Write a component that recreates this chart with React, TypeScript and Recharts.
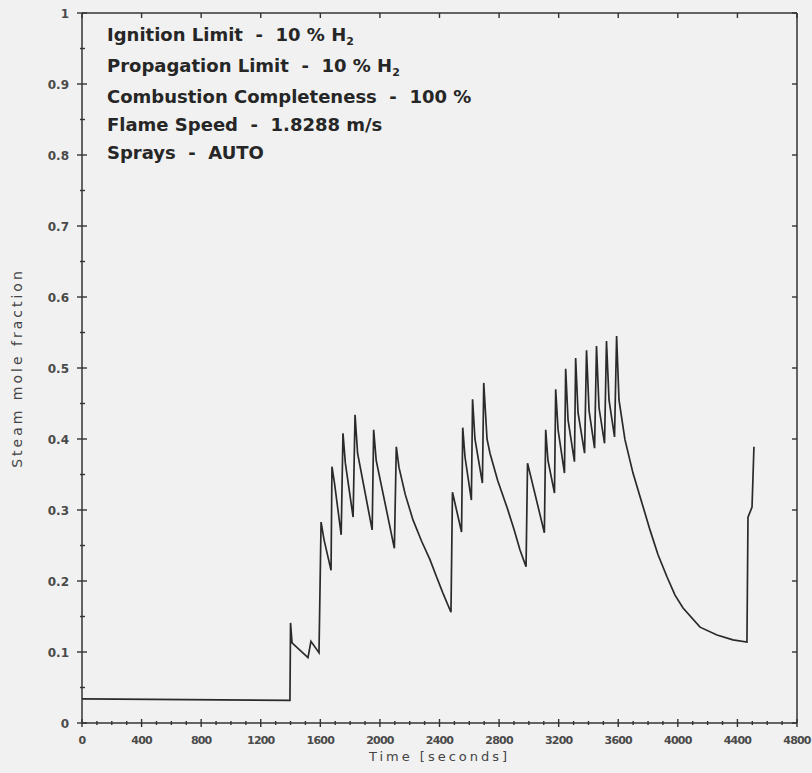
import { LineChart, Line, XAxis, YAxis } from 'recharts';

const times = [
  0, 700, 1396, 1400, 1410, 1517, 1537, 1591, 1605, 1625, 1672, 1678, 1695, 1740, 1752, 1768, 1820,
  1833, 1850, 1948, 1958, 1975, 2097, 2110, 2128, 2170, 2222, 2280, 2336, 2380, 2423, 2477, 2487,
  2548, 2556, 2571, 2614, 2622, 2638, 2688, 2697, 2719, 2739, 2790, 2853, 2900, 2940, 2981, 2991,
  3104, 3113, 3128, 3172, 3180, 3196, 3239, 3247, 3263, 3306, 3314, 3330, 3374, 3387, 3404, 3441,
  3454, 3471, 3508, 3521, 3538, 3575, 3589, 3605, 3645, 3699, 3759, 3813, 3867, 3927, 3981, 4035,
  4149, 4263, 4370, 4464, 4471, 4498, 4511,
];

const steamFraction = [
  0.034, 0.033, 0.032, 0.141, 0.113, 0.092, 0.115, 0.099, 0.283, 0.258, 0.215, 0.361, 0.338, 0.265,
  0.408, 0.366, 0.29, 0.434, 0.38, 0.272, 0.413, 0.37, 0.246, 0.389, 0.36, 0.322, 0.286, 0.256, 0.23,
  0.206, 0.183, 0.156, 0.325, 0.269, 0.416, 0.375, 0.314, 0.456, 0.4, 0.338, 0.479, 0.4, 0.38, 0.342,
  0.304, 0.273, 0.244, 0.22, 0.366, 0.268, 0.413, 0.37, 0.324, 0.47, 0.413, 0.352, 0.499, 0.427,
  0.368, 0.514, 0.437, 0.38, 0.525, 0.44, 0.387, 0.531, 0.444, 0.394, 0.538, 0.455, 0.403, 0.545,
  0.455, 0.399, 0.352, 0.31, 0.272, 0.237, 0.206, 0.18, 0.162, 0.135, 0.124, 0.117, 0.114, 0.29,
  0.304, 0.389,
];

const xMajorTicks = [0, 400, 800, 1200, 1600, 2000, 2400, 2800, 3200, 3600, 4000, 4400, 4800];
const xMinorTicks = [
  0, 100, 200, 300, 400, 500, 600, 700, 800, 900, 1000, 1100, 1200, 1300, 1400, 1500, 1600, 1700,
  1800, 1900, 2000, 2100, 2200, 2300, 2400, 2500, 2600, 2700, 2800, 2900, 3000, 3100, 3200, 3300,
  3400, 3500, 3600, 3700, 3800, 3900, 4000, 4100, 4200, 4300, 4400, 4500, 4600, 4700, 4800,
];
const yMajorTicks = [0, 0.1, 0.2, 0.3, 0.4, 0.5, 0.6, 0.7, 0.8, 0.9, 1];
const yMinorTicks = [
  0, 0.05, 0.1, 0.15, 0.2, 0.25, 0.3, 0.35, 0.4, 0.45, 0.5, 0.55, 0.6, 0.65, 0.7, 0.75, 0.8, 0.85,
  0.9, 0.95, 1,
];

const notes = [
  { label: 'Ignition Limit', value: '10 % H', sub: '2' },
  { label: 'Propagation Limit', value: '10 % H', sub: '2' },
  { label: 'Combustion Completeness', value: '100 %' },
  { label: 'Flame Speed', value: '1.8288 m/s' },
  { label: 'Sprays', value: 'AUTO' },
];

const data = times.map((t, i) => ({ t, v: steamFraction[i] }));

const INK = '#333';
const tickFont = { fontFamily: 'DejaVu Sans', fontWeight: 700, fill: '#4a4a4a' };

const isMajorX = (v: number) => Math.abs(v % 400) < 1e-6;
const isMajorY = (v: number) => Math.abs(Math.round(v * 10) - v * 10) < 1e-6;

const BottomTick = (props: any) => {
  const { x, y, payload } = props;
  const major = isMajorX(payload.value);
  return (
    <g>
      <line x1={x} x2={x} y1={y - (major ? 4 : 2)} y2={y + (major ? 4 : 2)} stroke={INK} strokeWidth={1.4} />
      {major && (
        <text x={x} y={y + 21} textAnchor="middle" fontSize={11} letterSpacing={-0.8} {...tickFont}>
          {payload.value}
        </text>
      )}
    </g>
  );
};

const LeftTick = (props: any) => {
  const { x, y, payload } = props;
  const major = isMajorY(payload.value);
  const v = payload.value;
  const label = v === 0 ? '0' : v === 1 ? '1' : v.toFixed(1);
  return (
    <g>
      <line x1={x - (major ? 5 : 2)} x2={x + (major ? 5 : 3)} y1={y} y2={y} stroke={INK} strokeWidth={1.4} />
      {major && (
        <text x={x - 13} y={y + 4.5} textAnchor="end" fontSize={12} {...tickFont}>
          {label}
        </text>
      )}
    </g>
  );
};

const TopTick = (props: any) => {
  const { x, y } = props;
  return <line x1={x} x2={x} y1={y} y2={y + 5} stroke={INK} strokeWidth={1.4} />;
};

const RightTick = (props: any) => {
  const { x, y } = props;
  return <line x1={x - 5} x2={x} y1={y} y2={y} stroke={INK} strokeWidth={1.4} />;
};

const App = () => {
  return (
    <div style={{ position: 'absolute', left: 0, top: 0, width: 812, height: 773, background: '#f1f1f1' }}>
      <LineChart width={812} height={773} data={data} margin={{ top: 0, right: 0, bottom: 0, left: 0 }}>
        <XAxis
          xAxisId="top"
          orientation="top"
          type="number"
          dataKey="t"
          domain={[0, 4800]}
          allowDataOverflow
          ticks={xMajorTicks}
          interval={0}
          height={13}
          tickSize={0}
          tickMargin={0}
          tickLine={false}
          tick={<TopTick />}
          axisLine={{ stroke: INK, strokeWidth: 1.5 }}
        />
        <XAxis
          type="number"
          dataKey="t"
          domain={[0, 4800]}
          allowDataOverflow
          ticks={xMinorTicks}
          interval={0}
          height={50}
          tickSize={0}
          tickMargin={0}
          tickLine={false}
          tick={<BottomTick />}
          axisLine={{ stroke: INK, strokeWidth: 1.5 }}
          label={{
            value: 'Time [seconds]',
            position: 'insideBottom',
            offset: 12,
            fontFamily: 'DejaVu Sans',
            fontSize: 13,
            fill: '#444',
            style: { letterSpacing: 3 },
          }}
        />
        <YAxis
          type="number"
          domain={[0, 1]}
          allowDataOverflow
          ticks={yMinorTicks}
          interval={0}
          width={82}
          tickSize={0}
          tickMargin={0}
          tickLine={false}
          tick={<LeftTick />}
          axisLine={{ stroke: INK, strokeWidth: 1.5 }}
          label={{
            value: 'Steam mole fraction',
            angle: -90,
            position: 'insideLeft',
            offset: 17,
            fontFamily: 'DejaVu Sans',
            fontSize: 14,
            fill: '#444',
            style: { textAnchor: 'middle', letterSpacing: 3 },
          }}
        />
        <YAxis
          yAxisId="right"
          orientation="right"
          type="number"
          domain={[0, 1]}
          allowDataOverflow
          ticks={yMajorTicks}
          interval={0}
          width={15}
          tickSize={0}
          tickMargin={0}
          tickLine={false}
          tick={<RightTick />}
          axisLine={{ stroke: INK, strokeWidth: 1.5 }}
        />
        <Line
          type="linear"
          dataKey="v"
          stroke="#2a2a2a"
          strokeWidth={1.7}
          dot={false}
          isAnimationActive={false}
        />
      </LineChart>
      <div
        style={{
          position: 'absolute',
          left: 107,
          top: 21,
          fontFamily: 'DejaVu Sans',
          fontWeight: 700,
          fontSize: 18,
          lineHeight: '28px',
          color: '#262626',
          whiteSpace: 'pre',
          pointerEvents: 'none',
        }}
      >
        {notes.map((n) => (
          <div key={n.label}>
            {n.label}
            {'  -  '}
            {n.value}
            {n.sub && <span style={{ fontSize: 11, position: 'relative', top: 4 }}>{n.sub}</span>}
          </div>
        ))}
      </div>
    </div>
  );
};

export default App;
